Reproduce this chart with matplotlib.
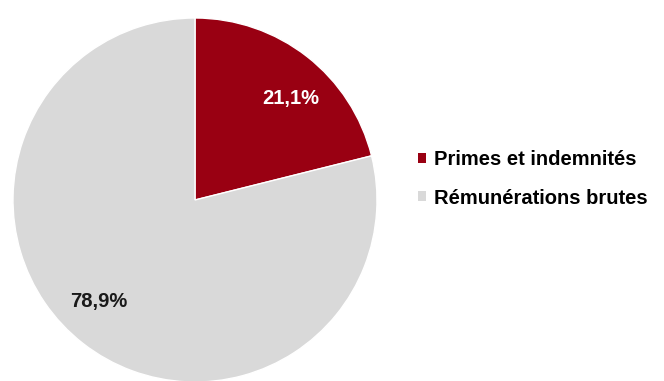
import matplotlib
matplotlib.use("Agg")
import matplotlib.pyplot as plt
import numpy as np

categories = ["Primes et indemnités", "Rémunérations brutes"]
values = [21.1, 78.9]
labels_txt = ["21,1%", "78,9%"]
colors = ["#990012", "#d9d9d9"]
label_colors = ["white", "#1a1a1a"]

W, H = 664, 381
fig = plt.figure(figsize=(W / 100, H / 100), dpi=100)
fig.patch.set_facecolor("white")

cx, cy, r = 195, 200, 182
ax = fig.add_axes([(cx - r) / W, (H - cy - r) / H, 2 * r / W, 2 * r / H])
wedges, _ = ax.pie(values, colors=colors, startangle=90, counterclock=False,
                   radius=1.0, wedgeprops=dict(edgecolor="white", linewidth=1.0))
for w, txt, c in zip(wedges, labels_txt, label_colors):
    ang = np.deg2rad((w.theta1 + w.theta2) / 2 - 5.5)
    ax.text(0.765 * np.cos(ang), 0.765 * np.sin(ang), txt, ha="center", va="center",
            color=c, fontsize=14.5, fontweight="bold", family="Liberation Sans")
ax.set_xlim(-1, 1)
ax.set_ylim(-1, 1)
ax.set_aspect("equal")
ax.axis("off")

leg = fig.legend(wedges, categories, loc="center left",
                 bbox_to_anchor=(400 / W, 1 - 179 / H), frameon=False,
                 handlelength=0.4, handleheight=0.4, handletextpad=0.4,
                 labelspacing=0.95,
                 prop=dict(family="Liberation Sans", weight="bold", size=14.5))
for h in leg.legend_handles:
    h.set_edgecolor("none")

fig.savefig("out.png", dpi=100, facecolor="white")
